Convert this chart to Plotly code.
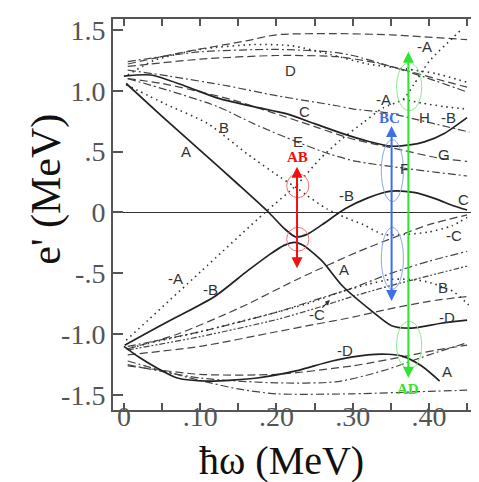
import plotly.graph_objects as go

# ---------------- data (hbar*omega in MeV, e' in MeV) ----------------
# solid curves
sA_x = [0.003, 0.05, 0.1, 0.15, 0.19, 0.21, 0.225, 0.24, 0.26, 0.29, 0.32, 0.35, 0.38, 0.41, 0.43, 0.45]
sA_y = [1.06, 0.79, 0.51, 0.23, 0.0, -0.13, -0.2, -0.18, -0.1, 0.03, 0.12, 0.175, 0.165, 0.11, 0.06, 0.02]

sB_x = [0.001, 0.03, 0.066, 0.119, 0.162, 0.19, 0.21, 0.224, 0.235, 0.26, 0.286, 0.325, 0.351, 0.377, 0.416, 0.45]
sB_y = [-1.09, -0.99, -0.87, -0.69, -0.48, -0.35, -0.27, -0.245, -0.27, -0.4, -0.6, -0.81, -0.93, -0.95, -0.91, -0.885]

sC_x = [0.0, 0.035, 0.08, 0.123, 0.17, 0.214, 0.25, 0.286, 0.32, 0.351, 0.375, 0.394, 0.42, 0.45]
sC_y = [1.12, 1.13, 1.04, 0.94, 0.87, 0.81, 0.73, 0.65, 0.585, 0.545, 0.555, 0.58, 0.65, 0.78]

sD_x = [0.0, 0.02, 0.044, 0.07, 0.11, 0.175, 0.227, 0.273, 0.32, 0.345, 0.365, 0.39, 0.414]
sD_y = [-1.1, -1.19, -1.28, -1.36, -1.385, -1.36, -1.3, -1.22, -1.17, -1.165, -1.18, -1.26, -1.385]

# dotted curves
dA_x = [0.003, 0.1, 0.185, 0.227, 0.257, 0.283, 0.314, 0.34, 0.366, 0.38, 0.4, 0.432, 0.442]
dA_y = [-1.05, -0.49, 0.0, 0.23, 0.44, 0.59, 0.74, 0.86, 0.93, 1.05, 1.24, 1.44, 1.5]

dA2_x = [0.366, 0.39, 0.42, 0.45]
dA2_y = [0.93, 0.9, 0.87, 0.85]

dB_x = [0.003, 0.055, 0.11, 0.162, 0.205, 0.227, 0.24, 0.266, 0.29, 0.314, 0.34, 0.37, 0.40, 0.43, 0.45]
dB_y = [1.05, 0.89, 0.73, 0.48, 0.29, 0.2, 0.14, 0.03, -0.04, -0.1, -0.18, -0.18, -0.16, -0.11, -0.04]

dC_x = [0.003, 0.05, 0.1, 0.15, 0.2, 0.24, 0.286, 0.32, 0.35, 0.375, 0.398, 0.432, 0.452]
dC_y = [-1.12, -1.05, -0.98, -0.9, -0.82, -0.75, -0.65, -0.59, -0.55, -0.55, -0.57, -0.65, -0.76]

dT_x = [0.005, 0.04, 0.1, 0.17, 0.22, 0.27, 0.32, 0.37, 0.41, 0.45]
dT_y = [1.13, 1.25, 1.34, 1.38, 1.37, 1.3, 1.22, 1.18, 1.14, 1.07]

# dashed curves
u1_x = [0.005, 0.08, 0.16, 0.2, 0.27, 0.35, 0.45]
u1_y = [1.22, 1.32, 1.41, 1.46, 1.47, 1.46, 1.42]
u3_x = [0.005, 0.1, 0.2, 0.28, 0.33, 0.38, 0.42, 0.45]
u3_y = [1.2, 1.26, 1.29, 1.28, 1.23, 1.15, 1.08, 1.03]
u5_x = [0.005, 0.05, 0.14, 0.2, 0.253, 0.296, 0.33, 0.367, 0.41, 0.45]
u5_y = [1.1, 1.06, 0.93, 0.81, 0.7, 0.61, 0.56, 0.51, 0.45, 0.42]
l1_x = [0.005, 0.07, 0.153, 0.227, 0.308, 0.40, 0.45]
l1_y = [-1.12, -1.0, -0.78, -0.55, -0.32, -0.1, -0.02]
l4_x = [0.005, 0.1, 0.2, 0.25, 0.3, 0.35, 0.4, 0.45]
l4_y = [-1.17, -1.1, -0.98, -0.92, -0.86, -0.79, -0.73, -0.69]
l5_x = [0.005, 0.1, 0.2, 0.3, 0.37, 0.41, 0.45]
l5_y = [-1.26, -1.33, -1.33, -1.26, -1.18, -1.13, -1.09]

# dash-dot curves
u2_x = [0.005, 0.1, 0.2, 0.27, 0.3, 0.35, 0.4, 0.45]
u2_y = [1.24, 1.32, 1.34, 1.32, 1.29, 1.2, 1.1, 0.99]
u4_x = [0.005, 0.06, 0.136, 0.2, 0.279, 0.301, 0.344, 0.4, 0.453]
u4_y = [1.17, 1.12, 1.04, 0.96, 0.877, 0.85, 0.82, 0.74, 0.66]
u6_x = [0.005, 0.06, 0.123, 0.17, 0.227, 0.27, 0.305, 0.36, 0.41, 0.45]
u6_y = [1.1, 1.0, 0.87, 0.73, 0.58, 0.48, 0.42, 0.37, 0.33, 0.3]
l2_x = [0.005, 0.1, 0.2, 0.25, 0.3, 0.35, 0.4, 0.45]
l2_y = [-1.1, -0.98, -0.82, -0.72, -0.62, -0.5, -0.4, -0.32]
l3_x = [0.005, 0.1, 0.2, 0.25, 0.3, 0.35, 0.4, 0.45]
l3_y = [-1.13, -1.02, -0.88, -0.79, -0.69, -0.6, -0.52, -0.44]
l6_x = [0.005, 0.1, 0.2, 0.28, 0.34, 0.4, 0.45]
l6_y = [-1.25, -1.36, -1.4, -1.39, -1.3, -1.17, -1.07]
l7_x = [0.005, 0.05, 0.1, 0.15, 0.2, 0.3, 0.4, 0.45]
l7_y = [-1.22, -1.3, -1.38, -1.45, -1.49, -1.49, -1.47, -1.46]

# curve labels
label_text = ["D", "-A", "-A", "H", "-B", "C", "B", "A", "E", "G", "F", "-B", "C",
              "-C", "-A", "-B", "A", "B", "-C", "-D", "-D", "A"]
label_x = [0.218, 0.394, 0.34, 0.394, 0.425, 0.237, 0.131, 0.081, 0.228, 0.42, 0.368, 0.292, 0.445,
           0.433, 0.068, 0.114, 0.288, 0.418, 0.253, 0.423, 0.29, 0.423]
label_y = [1.17, 1.36, 0.93, 0.78, 0.78, 0.83, 0.70, 0.50, 0.58, 0.48, 0.36, 0.14, 0.11,
           -0.19, -0.54, -0.63, -0.47, -0.62, -0.84, -0.86, -1.13, -1.31]

# x ticks (MeV)
x_tickvals = [0.0, 0.05, 0.1, 0.15, 0.2, 0.25, 0.3, 0.35, 0.4, 0.45]
x_ticktext = ["0", "", ".10", "", ".20", "", ".30", "", ".40", ""]
y_tickvals = [1.5, 1.0, 0.5, 0.0, -0.5, -1.0, -1.5]
y_ticktext = ["1.5", "1.0", ".5", "0", "-.5", "-1.0", "-1.5"]

# transitions (name, omega, lower e', upper e', colour)
trans_name = ["AB", "BC", "AD"]
trans_x = [0.227, 0.351, 0.373]
trans_lo = [-0.47, -0.74, -1.37]
trans_hi = [0.375, 0.71, 1.32]
trans_color = ["#ee1111", "#3f6fe8", "#2ee52e"]
trans_ell_color = ["#f27070", "#8aa4f0", "#8fe88f"]
trans_label_y = [0.46, 0.78, -1.45]
trans_label_x = [0.227, 0.348, 0.373]
# ellipse centres/half-sizes around avoided crossings
ell_cy_up = [0.22, 0.344, 1.033]
ell_cy_dn = [-0.22, -0.377, -1.09]
ell_rx = [0.0145, 0.0145, 0.0165]
ell_ry = [0.098, 0.254, 0.197]

# ---------------- figure ----------------
SERIF = "Liberation Serif"
SOLID = dict(color="#222222", width=1.7)
DOT = dict(color="#333333", width=1.6, dash="1.5px,4px")
DASH = dict(color="#444444", width=1.2, dash="8px,4px")
DASHDOT = dict(color="#444444", width=1.2, dash="8px,3px,2px,3px")
DASHDOT2 = dict(color="#444444", width=1.2, dash="6px,2px,2px,2px,2px,2px")

fig = go.Figure()

def add(xs, ys, style):
    fig.add_trace(go.Scatter(x=xs, y=ys, mode="lines", line=dict(shape="spline", smoothing=0.7, **style),
                             hoverinfo="skip", showlegend=False))

for xs, ys in [(u1_x, u1_y), (u3_x, u3_y), (u5_x, u5_y), (l1_x, l1_y), (l4_x, l4_y), (l5_x, l5_y)]:
    add(xs, ys, DASH)
for xs, ys in [(u2_x, u2_y), (u4_x, u4_y), (u6_x, u6_y), (l2_x, l2_y), (l6_x, l6_y), (l7_x, l7_y)]:
    add(xs, ys, DASHDOT)
add(l3_x, l3_y, DASHDOT2)
for xs, ys in [(dA_x, dA_y), (dA2_x, dA2_y), (dB_x, dB_y), (dC_x, dC_y), (dT_x, dT_y)]:
    add(xs, ys, DOT)
for xs, ys in [(sA_x, sA_y), (sB_x, sB_y), (sC_x, sC_y), (sD_x, sD_y)]:
    add(xs, ys, SOLID)

shapes = []
# zero line
shapes.append(dict(type="line", xref="paper", yref="y", x0=0, x1=1, y0=0, y1=0,
                   line=dict(color="#333333", width=1.2), layer="below"))
for i in range(3):
    for cy in (ell_cy_up[i], ell_cy_dn[i]):
        shapes.append(dict(type="circle", xref="x", yref="y",
                           x0=trans_x[i] - ell_rx[i] + 0.001, x1=trans_x[i] + ell_rx[i] + 0.001,
                           y0=cy - ell_ry[i], y1=cy + ell_ry[i],
                           line=dict(color=trans_ell_color[i], width=1)))

annotations = []
for t, x, y in zip(label_text, label_x, label_y):
    annotations.append(dict(x=x, y=y, text=t, showarrow=False, xref="x", yref="y",
                            font=dict(family="Liberation Sans", size=15, color="#333333")))
for i in range(3):
    annotations.append(dict(x=trans_x[i], y=trans_hi[i], ax=trans_x[i], ay=trans_lo[i],
                            xref="x", yref="y", axref="x", ayref="y", text="", showarrow=True,
                            arrowhead=2, arrowside="end+start", arrowsize=1.1, arrowwidth=2,
                            arrowcolor=trans_color[i]))
    annotations.append(dict(x=trans_label_x[i], y=trans_label_y[i], text="<b>%s</b>" % trans_name[i],
                            showarrow=False, xref="x", yref="y",
                            font=dict(family=SERIF, size=15, color=trans_color[i])))
# small arrow near -C
annotations.append(dict(x=0.27, y=-0.72, ax=-9, ay=9, xref="x", yref="y", text="", showarrow=True,
                        arrowhead=2, arrowsize=0.8, arrowwidth=1.2, arrowcolor="#333333"))
# axis titles
annotations.append(dict(x=0.463, y=-0.128, xref="paper", yref="paper", text="ħω (MeV)",
                        showarrow=False, xanchor="center", yanchor="middle",
                        font=dict(family=SERIF, size=40, color="#111111")))
annotations.append(dict(x=-0.183, y=0.564, xref="paper", yref="paper", text="e' (MeV)",
                        showarrow=False, xanchor="center", yanchor="middle", textangle=-90,
                        font=dict(family=SERIF, size=42, color="#111111")))

tickfont = dict(family=SERIF, size=28, color="#555555")
fig.update_layout(
    width=479, height=482,
    margin=dict(l=105, r=7, t=10, b=80),
    paper_bgcolor="white", plot_bgcolor="white",
    shapes=shapes, annotations=annotations,
    xaxis=dict(range=[-0.0143, 0.4643], tickvals=x_tickvals, ticktext=x_ticktext,
               ticks="inside", ticklen=7, tickwidth=1.5, tickcolor="#555555",
               showline=True, linecolor="#555555", linewidth=2, mirror="ticks",
               showgrid=False, zeroline=False, tickfont=tickfont, ticklabelstandoff=-20),
    yaxis=dict(range=[-1.623, 1.59], tickvals=y_tickvals, ticktext=y_ticktext,
               ticks="inside", ticklen=10, tickwidth=1.5, tickcolor="#555555",
               showline=True, linecolor="#555555", linewidth=2, mirror=True,
               showgrid=False, zeroline=False, tickfont=tickfont),
)

fig.write_html("out.html")
